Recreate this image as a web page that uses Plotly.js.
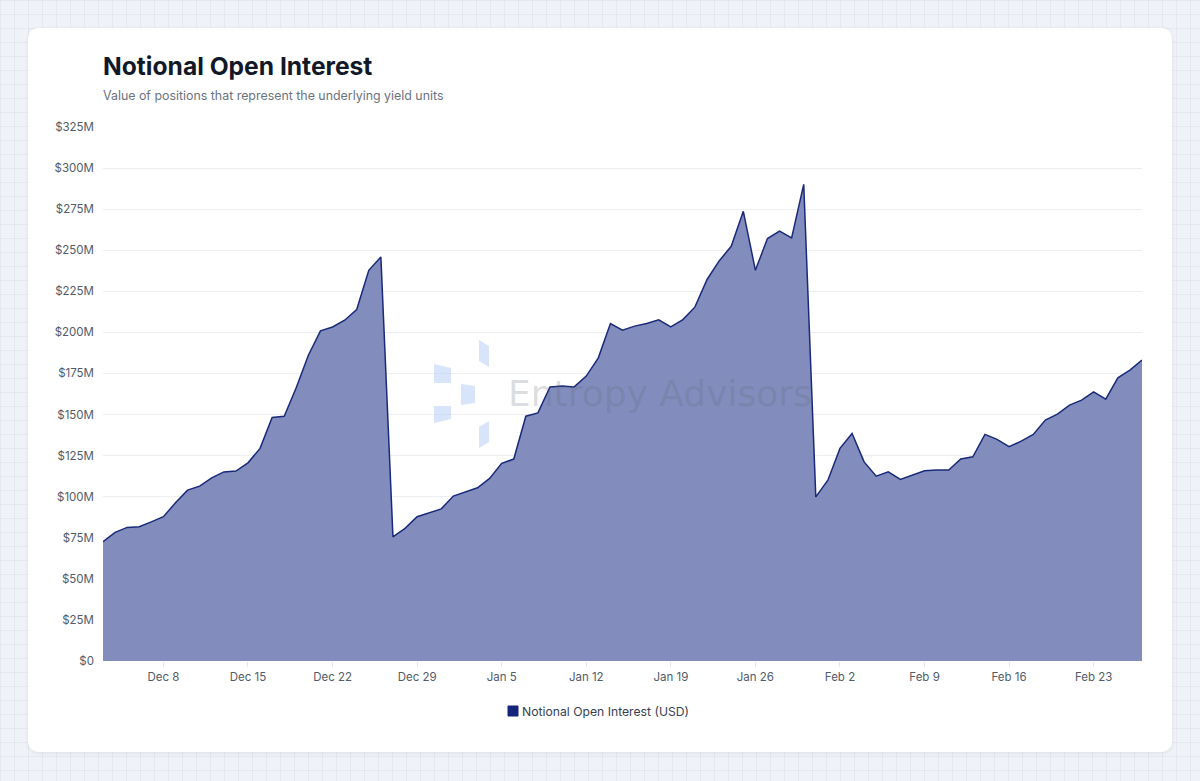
<!DOCTYPE html>
<html>
<head>
<meta charset="utf-8">
<script src="https://cdn.plot.ly/plotly-3.0.1.min.js"></script>
<style>
  html, body { margin:0; padding:0; width:1200px; height:781px; overflow:hidden; }
  body {
    background-color:#eff2f7;
    background-image:
      linear-gradient(rgba(205,210,225,0.3) 1px, transparent 1px),
      linear-gradient(90deg, rgba(205,210,225,0.3) 1px, transparent 1px);
    background-size:14px 14px;
    font-family: Inter, "Noto Sans", sans-serif;
  }
  #card { position:absolute; left:28px; top:28px; width:1144px; height:724px; background:#ffffff;
          border-radius:10px; box-shadow:0 1px 4px rgba(0,0,0,0.08); }
  #chart { position:absolute; left:0; top:0; width:1200px; height:781px; }
</style>
</head>
<body>
<div id="card"></div>
<div id="chart"></div>
<script>
const dates = [
  "2024-12-03","2024-12-04","2024-12-05","2024-12-06","2024-12-07","2024-12-08","2024-12-09","2024-12-10",
  "2024-12-11","2024-12-12","2024-12-13","2024-12-14","2024-12-15","2024-12-16","2024-12-17","2024-12-18",
  "2024-12-19","2024-12-20","2024-12-21","2024-12-22","2024-12-23","2024-12-24","2024-12-25","2024-12-26",
  "2024-12-27","2024-12-28","2024-12-29","2024-12-30","2024-12-31",
  "2025-01-01","2025-01-02","2025-01-03","2025-01-04","2025-01-05","2025-01-06","2025-01-07","2025-01-08",
  "2025-01-09","2025-01-10","2025-01-11","2025-01-12","2025-01-13","2025-01-14","2025-01-15","2025-01-16",
  "2025-01-17","2025-01-18","2025-01-19","2025-01-20","2025-01-21","2025-01-22","2025-01-23","2025-01-24",
  "2025-01-25","2025-01-26","2025-01-27","2025-01-28","2025-01-29","2025-01-30","2025-01-31",
  "2025-02-01","2025-02-02","2025-02-03","2025-02-04","2025-02-05","2025-02-06","2025-02-07","2025-02-08",
  "2025-02-09","2025-02-10","2025-02-11","2025-02-12","2025-02-13","2025-02-14","2025-02-15","2025-02-16",
  "2025-02-17","2025-02-18","2025-02-19","2025-02-20","2025-02-21","2025-02-22","2025-02-23","2025-02-24",
  "2025-02-25","2025-02-26","2025-02-27"
];
// Notional open interest, millions USD
const notionalOI = [
  72.6, 78.3, 81.3, 81.7, 84.7, 87.8, 96.3, 104.0, 106.4, 111.5, 115.1, 115.6, 120.6, 129.4, 148.2, 149.0,
  166.5, 186.1, 200.9, 203.3, 207.4, 213.9, 237.8, 245.9,
  75.6, 80.7, 87.8, 90.4, 92.6, 100.4, 103.0, 105.4, 111.1, 120.3, 122.9, 149.0, 151.0, 166.8, 167.3, 166.8,
  173.4, 184.5, 205.4, 201.3, 203.8, 205.4, 207.6, 203.3, 207.8, 215.5, 232.2, 243.5, 252.4, 273.7, 237.8,
  257.1, 261.7, 257.5, 290.1,
  99.9, 110.0, 129.4, 138.5, 121.2, 112.5, 115.1, 110.5, 113.1, 115.8, 116.2, 116.2, 122.9, 124.3, 137.9,
  134.9, 130.4, 133.8, 137.9, 146.6, 150.2, 155.7, 158.8, 163.8, 159.4, 172.3, 177.0, 183.1
];
const yTickVals = [0, 25, 50, 75, 100, 125, 150, 175, 200, 225, 250, 275, 300, 325];
const yTickText = ["$0","$25M","$50M","$75M","$100M","$125M","$150M","$175M","$200M","$225M","$250M","$275M","$300M","$325M"];
const seriesName = "Notional Open Interest (USD)";
const chartTitle = "Notional Open Interest";
const chartSubtitle = "Value of positions that represent the underlying yield units";
const watermark = "Entropy Advisors";

// plot area in page pixels
const L = 103, R = 1142, T = 127, B = 661;
const W = R - L, H = B - T;
const px = v => (v - L) / W;
const py = v => (B - v) / H;

const logoColor = "rgba(190,210,245,0.6)";
function quad(pts) {
  return { type:"path", xref:"paper", yref:"paper", layer:"above",
    path: "M" + pts.map(p => px(p[0]) + "," + py(p[1])).join(" L") + " Z",
    fillcolor: logoColor, line:{width:0} };
}

const traces = [
  { x: dates, y: notionalOI, type:"scatter", mode:"lines", fill:"tozeroy",
    fillcolor:"#828dbe", line:{color:"#1a2a7a", width:1.5}, name: seriesName, showlegend:false,
    hovertemplate:"%{x}<br>$%{y:.1f}M<extra></extra>" }
];

const layout = {
  width:1200, height:781,
  paper_bgcolor:"rgba(0,0,0,0)", plot_bgcolor:"rgba(0,0,0,0)",
  margin:{l:L, r:1200-R, t:T, b:781-B},
  font:{family:"Inter, 'Noto Sans', sans-serif", color:"#4b5563", size:11.5},
  title:{ text: chartTitle, xref:"container", yref:"container", x:L/1200, xanchor:"left",
          y:1-66/781, yanchor:"middle",
          font:{family:"Inter, sans-serif", size:24.6, color:"#111827", weight:700} },
  xaxis:{ type:"date", range:["2024-12-03","2025-02-27"], tick0:"2024-12-08", dtick:7*86400000,
          tickformat:"%b %-d", showgrid:false, zeroline:false, showline:false,
          ticks:"outside", ticklen:5, tickcolor:"#e5e7eb", tickfont:{size:11.5, color:"#525b6a"} },
  yaxis:{ range:[0,325], tickvals:yTickVals, ticktext:yTickText, showgrid:true, gridcolor:"#eceef2",
          zeroline:false, showline:false, ticks:"", ticklen:0, ticklabelstandoff:8,
          tickfont:{size:11.5, color:"#525b6a"} },
  showlegend:false,
  shapes:[
    quad([[479,340],[489,346],[489,367],[479,361]]),
    quad([[434,364],[451,368],[451,383],[434,383]]),
    quad([[461,384],[475,386],[475,403],[461,405]]),
    quad([[434,406],[451,406],[451,419],[434,423]]),
    quad([[479,427],[489,421],[489,442],[479,448]]),
    { type:"rect", xref:"paper", yref:"paper", x0:px(508), x1:px(518), y0:py(716), y1:py(706),
      fillcolor:"#13247a", line:{color:"#13247a", width:1} }
  ],
  annotations:[
    { text: chartSubtitle, xref:"paper", yref:"paper", x:px(101), y:py(95), xanchor:"left", yanchor:"middle",
      showarrow:false, font:{size:12.4, color:"#6b7280"} },
    { text: watermark, xref:"paper", yref:"paper", x:px(660), y:py(393), xanchor:"center", yanchor:"middle",
      showarrow:false, font:{family:"'DejaVu Sans', sans-serif", size:36, color:"rgba(95,100,115,0.22)"} },
    { text: seriesName, xref:"paper", yref:"paper", x:px(520), y:py(711), xanchor:"left", yanchor:"middle",
      showarrow:false, font:{size:12.2, color:"#374151"} }
  ]
};

Plotly.newPlot("chart", traces, layout, {displayModeBar:false, staticPlot:true});
</script>
</body>
</html>
